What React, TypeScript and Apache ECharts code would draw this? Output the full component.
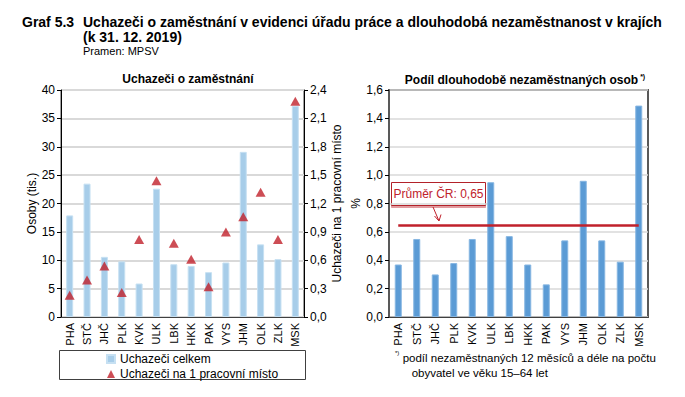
import React, { useEffect, useRef } from "react";
import * as echarts from "echarts";

const categories = ["PHA", "STČ", "JHČ", "PLK", "KVK", "ULK", "LBK", "HKK", "PAK", "VYS", "JHM", "OLK", "ZLK", "MSK"];
const applicants = [17.9, 23.5, 10.6, 9.8, 5.9, 22.6, 9.3, 9.0, 7.9, 9.6, 29.1, 12.8, 10.2, 37.2];
const perVacancy = [0.23, 0.39, 0.54, 0.26, 0.82, 1.44, 0.78, 0.61, 0.32, 0.9, 1.06, 1.32, 0.82, 2.28];
const longTermShare = [0.37, 0.55, 0.3, 0.38, 0.55, 0.95, 0.57, 0.37, 0.23, 0.54, 0.96, 0.54, 0.39, 1.49];
const averageCR = 0.65;
const leftTicks = { min: 0, max: 40, interval: 5 };
const rightTicks = { min: 0, max: 2.4, interval: 0.3 };
const shareTicks = { min: 0, max: 1.6, interval: 0.2 };

const FONT = "'Liberation Sans', Arial, sans-serif";
const NARROW = "'Liberation Sans Narrow', 'Liberation Sans', Arial, sans-serif";
const comma = (v: number) => v.toFixed(1).replace(".", ",");

export default function App() {
  const ref = useRef<HTMLDivElement>(null);
  useEffect(() => {
    const chart = echarts.init(ref.current!, null, { renderer: "svg" });
    const axisLabel = { color: "#000", fontFamily: FONT, fontSize: 12 };
    const catAxis = (gridIndex: number) => ({
      type: "category",
      gridIndex,
      data: categories,
      axisLine: { show: true, lineStyle: { color: "#404040", width: 1 } },
      axisTick: { show: false },
      axisLabel: { rotate: 90, color: "#000", fontFamily: FONT, fontSize: 11, margin: 6 },
    });
    const option: any = {
      animation: false,
      textStyle: { fontFamily: FONT },
      grid: [
        { left: 61, top: 90, width: 243, height: 227, show: true, borderColor: "#404040", borderWidth: 1, backgroundColor: "transparent" },
        { left: 389, top: 90, width: 259, height: 227, show: true, borderColor: "#595959", borderWidth: 2, backgroundColor: "transparent" },
      ],
      xAxis: [catAxis(0), catAxis(1)],
      yAxis: [
        {
          type: "value", gridIndex: 0, ...leftTicks,
          name: "Osoby (tis.)", nameLocation: "middle", nameGap: 22,
          nameTextStyle: { color: "#000", fontFamily: FONT, fontSize: 12 },
          axisLine: { show: true, lineStyle: { color: "#000", width: 1 } },
          axisTick: { show: true, length: 4, lineStyle: { color: "#000" } },
          axisLabel: { ...axisLabel, margin: 6 },
          splitLine: { show: true, lineStyle: { color: "#d9d9d9", width: 2 } },
        },
        {
          type: "value", gridIndex: 0, position: "right", ...rightTicks,
          name: "Uchazeči na 1 pracovní místo", nameLocation: "middle", nameGap: 22,
          nameTextStyle: { color: "#000", fontFamily: FONT, fontSize: 12 },
          axisLine: { show: true, lineStyle: { color: "#000", width: 1 } },
          axisTick: { show: true, length: 4, lineStyle: { color: "#000" } },
          axisLabel: { ...axisLabel, margin: 6, formatter: comma },
          splitLine: { show: false },
        },
        {
          type: "value", gridIndex: 1, ...shareTicks,
          name: "%", nameLocation: "middle", nameGap: 26, nameRotate: 90,
          nameTextStyle: { color: "#000", fontFamily: FONT, fontSize: 12 },
          axisLine: { show: true, lineStyle: { color: "#595959", width: 2 } },
          axisTick: { show: true, length: 4, lineStyle: { color: "#000" } },
          axisLabel: { ...axisLabel, margin: 6, formatter: comma },
          splitLine: { show: true, lineStyle: { color: "#d9d9d9", width: 1.5 } },
        },
      ],
      legend: {
        orient: "vertical",
        left: 104,
        top: 351,
        itemGap: 3,
        itemWidth: 8,
        itemHeight: 8,
        padding: 2,
        textStyle: { color: "#000", fontFamily: FONT, fontSize: 12 },
        data: [
          { name: "Uchazeči celkem", icon: "rect" },
          { name: "Uchazeči na 1 pracovní místo", icon: "triangle" },
        ],
      },
      title: [
        { text: "Uchazeči o zaměstnání", left: 183, top: 68, textAlign: "center", textStyle: { fontSize: 12, fontWeight: "bold", color: "#000", fontFamily: FONT } },
        {
          text: "{t|Podíl dlouhodobě nezaměstnaných osob}{s|*)}",
          left: 520, top: 68, textAlign: "center",
          textStyle: {
            rich: {
              t: { fontSize: 12, fontWeight: "bold", color: "#000", fontFamily: FONT },
              s: { fontSize: 7, color: "#000", fontFamily: FONT, verticalAlign: "top", padding: [0, 0, 6, 2] },
            },
          },
        },
      ],
      series: [
        {
          name: "Uchazeči celkem", type: "bar", xAxisIndex: 0, yAxisIndex: 0,
          data: applicants, barWidth: 7,
          itemStyle: { color: "#a7cde9", borderColor: "#c6e0f2", borderWidth: 1 },
        },
        {
          name: "Uchazeči na 1 pracovní místo", type: "scatter", xAxisIndex: 0, yAxisIndex: 1,
          data: perVacancy, symbol: "triangle", symbolSize: [10, 9],
          itemStyle: { color: "#c0212b" },
        },
        {
          name: "Podíl", type: "bar", xAxisIndex: 1, yAxisIndex: 2,
          data: longTermShare, barWidth: 7,
          itemStyle: { color: "#5b9bd5", borderColor: "#86b6e2", borderWidth: 1 },
          markLine: {
            symbol: "none", silent: true, label: { show: false },
            lineStyle: { color: "#c0212b", width: 2.5, type: "solid" },
            data: [[{ coord: [categories[0], averageCR] }, { coord: [categories[categories.length - 1], averageCR] }]],
          },
        },
      ],
      graphic: [
        { type: "text", left: 22, top: 15, style: { text: "Graf 5.3", font: `bold 14px ${NARROW}`, fill: "#000" } },
        { type: "text", left: 83, top: 15, style: { text: "Uchazeči o zaměstnání v evidenci úřadu práce a dlouhodobá nezaměstnanost v krajích", font: `bold 14px ${NARROW}`, fill: "#000" } },
        { type: "text", left: 83, top: 30, style: { text: "(k 31. 12. 2019)", font: `bold 14px ${NARROW}`, fill: "#000" } },
        { type: "text", left: 83, top: 45, style: { text: "Pramen: MPSV", font: `11px ${NARROW}`, fill: "#000" } },
        { type: "rect", shape: { x: 59.5, y: 350.5, width: 246, height: 29 }, style: { fill: "none", stroke: "#404040", lineWidth: 1 } },
        { type: "rect", shape: { x: 391.5, y: 182.5, width: 94, height: 23 }, style: { fill: "#fff", stroke: "#b3202a", lineWidth: 1, shadowColor: "rgba(192,33,43,0.45)", shadowOffsetY: 2, shadowBlur: 0 } },
        { type: "text", x: 438.5, y: 194, style: { text: "Průměr ČR: 0,65", font: `12px ${FONT}`, fill: "#c0212b", align: "center", verticalAlign: "middle" } },
        { type: "line", shape: { x1: 433, y1: 207, x2: 439, y2: 221 }, style: { stroke: "#c0212b", lineWidth: 1 } },
        { type: "polyline", shape: { points: [[434.5, 216], [439, 221], [441, 214.5]] }, style: { stroke: "#c0212b", fill: "none", lineWidth: 1 } },
        {
          type: "text", left: 395, top: 350,
          style: {
            text: "{s|*)} {t|podíl nezaměstnaných 12 měsíců a déle na počtu}\n     {t|obyvatel ve věku 15–64 let}",
            rich: {
              s: { fontSize: 6, fill: "#000", fontFamily: FONT, verticalAlign: "top" },
              t: { fontSize: 11.5, fill: "#000", fontFamily: FONT, lineHeight: 15 },
            },
          },
        },
      ],
    };
    chart.setOption(option);
    return () => chart.dispose();
  }, []);
  return <div ref={ref} style={{ position: "fixed", left: 0, top: 0, width: 685, height: 397, background: "#fff" }} />;
}
